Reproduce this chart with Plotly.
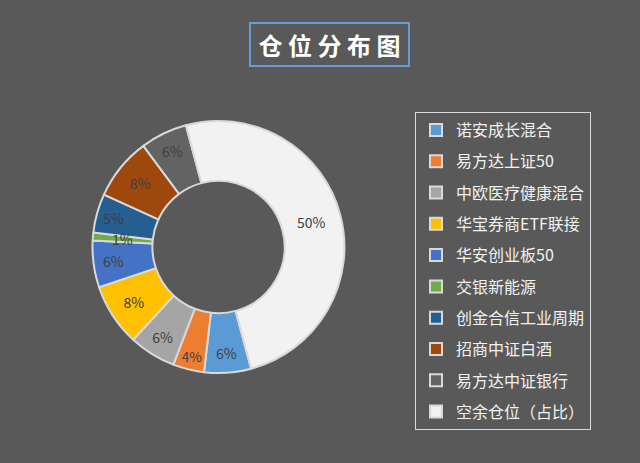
import math
import plotly.graph_objects as go

labels = ["诺安成长混合", "易方达上证50", "中欧医疗健康混合", "华宝券商ETF联接", "华安创业板50",
          "交银新能源", "创金合信工业周期", "招商中证白酒", "易方达中证银行", "空余仓位（占比）"]
values = [6, 4, 6, 8, 6, 1, 5, 8, 6, 50]
colors = ["#5B9BD5", "#ED7D31", "#A5A5A5", "#FFC000", "#4472C4",
          "#70AD47", "#255E91", "#9E480E", "#636363", "#F2F2F2"]

FONT = "Noto Sans CJK SC"
BG = "#595959"
W, H = 640, 463
ROT = 165
HOLE = 0.525
DOM_X = [92.5 / W, 344.5 / W]
DOM_Y = [90 / H, 342 / H]

# the tiniest slice's label is placed as an annotation so it keeps full size
small = values.index(min(values))
texts = [f"{v}%" if i != small else "" for i, v in enumerate(values)]

fig = go.Figure()
fig.add_trace(go.Pie(
    labels=labels, values=values, sort=False, direction="clockwise", rotation=ROT,
    hole=HOLE,
    marker=dict(colors=colors, line=dict(color="#D9D9D9", width=2)),
    text=texts, textinfo="text", textposition="inside", insidetextorientation="horizontal",
    textfont=dict(family=FONT, size=14, color="#404040"),
    showlegend=False, hoverinfo="label+percent",
    domain=dict(x=DOM_X, y=DOM_Y),
))

for lab, col in zip(labels, colors):
    fig.add_trace(go.Scatter(
        x=[None], y=[None], mode="markers", name=lab, legendgroup=lab,
        marker=dict(symbol="square", size=9, color=col, line=dict(color="#D9D9D9", width=1.5)),
    ))

# position of the small slice label, derived from the data and pie geometry
total = sum(values)
ang = math.radians(ROT + (sum(values[:small]) + values[small] / 2) / total * 360)
cx, cy = (DOM_X[0] + DOM_X[1]) / 2 * W, (DOM_Y[0] + DOM_Y[1]) / 2 * H
R = min((DOM_X[1] - DOM_X[0]) * W, (DOM_Y[1] - DOM_Y[0]) * H) / 2
rm = R * (1 + HOLE) / 2
sx, sy = cx + rm * math.sin(ang), cy + rm * math.cos(ang)

fig.update_layout(
    width=W, height=H,
    margin=dict(l=0, r=0, t=0, b=0),
    paper_bgcolor=BG, plot_bgcolor=BG,
    xaxis=dict(visible=False), yaxis=dict(visible=False),
    legend=dict(
        x=415/640, y=1-112/463, xanchor="left", yanchor="top",
        bgcolor=BG, bordercolor="#D9D9D9", borderwidth=1,
        font=dict(family=FONT, size=16, color="#F2F2F2"),
        tracegroupgap=7.5, itemsizing="constant",
    ),
    annotations=[
        dict(
            text="<b>仓 位 分 布 图</b>", x=329.5/640, y=1-44.5/463, xref="paper", yref="paper",
            xanchor="center", yanchor="middle",
            showarrow=False, font=dict(family=FONT, size=24, color="#FFFFFF"),
            width=153, height=37,
            bordercolor="#6A9BD0", borderwidth=2, borderpad=2, bgcolor=BG,
        ),
        dict(
            text=f"{values[small]}%", x=sx / W, y=sy / H, xref="paper", yref="paper",
            xanchor="center", yanchor="middle", showarrow=False,
            font=dict(family=FONT, size=14, color="#404040"),
        ),
    ],
)

fig.write_html("out.html", config={"displayModeBar": False},
               post_script="document.body.style.margin='0';")
